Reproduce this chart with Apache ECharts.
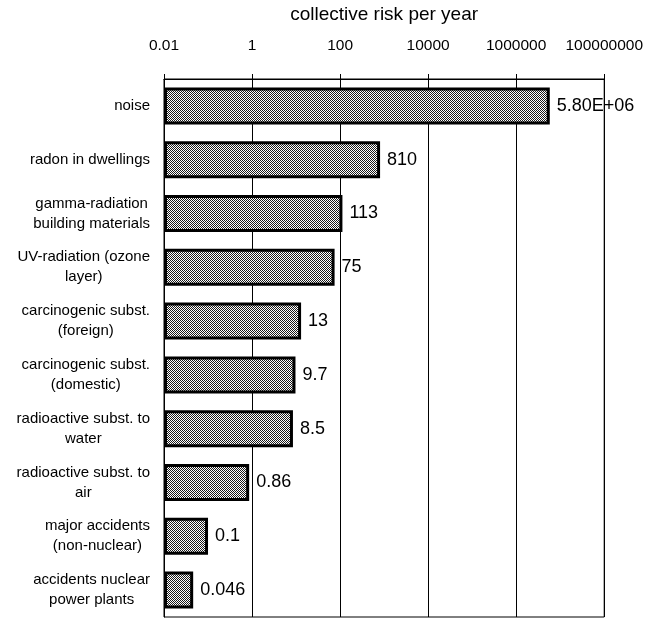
<!DOCTYPE html>
<html lang="en">

<head>
  <meta charset="UTF-8">
  <title>collective risk per year</title>
  <script src="https://cdn.jsdelivr.net/npm/echarts@6/dist/echarts.min.js"></script>
</head>

<body style="margin: 0;padding: 0;">
  <div id="main" style="width: 646px;height: 619px;"></div>
  <script>
    var categories = [
      'noise',
      'radon in dwellings',
      'gamma-radiation\nbuilding materials',
      'UV-radiation (ozone\nlayer)',
      'carcinogenic subst.\n(foreign)',
      'carcinogenic subst.\n(domestic)',
      'radioactive subst. to\nwater',
      'radioactive subst. to\nair',
      'major accidents\n(non-nuclear)',
      'accidents nuclear\npower plants'
    ];
    var values = [5800000, 810, 113, 75, 13, 9.7, 8.5, 0.86, 0.1, 0.046];
    var valueLabels = ['5.80E+06', '810', '113', '75', '13', '9.7', '8.5', '0.86', '0.1', '0.046'];
    var tickLabels = ['0.01', '1', '100', '10000', '1000000', '100000000'];

    // dotted fill like the old print
    var pat = document.createElement('canvas');
    pat.width = 2;
    pat.height = 2;
    var ctx = pat.getContext('2d');
    ctx.fillStyle = '#ffffff';
    ctx.fillRect(0, 0, 2, 2);
    ctx.fillStyle = '#1a1a1a';
    ctx.fillRect(0, 0, 1, 1);
    ctx.fillRect(1, 1, 1, 1);

    var font = '"Liberation Sans", Arial, sans-serif';
    var chart = echarts.init(document.getElementById('main'));

    var option = {
      animation: false,
      grid: {
        left: 164,
        right: 38,
        top: 76,
        bottom: 2,
        show: true,
        borderColor: '#000',
        borderWidth: 1
      },
      xAxis: {
        type: 'log',
        logBase: 100,
        min: 0.01,
        max: 100000000,
        startValue: 0.01,
        position: 'top',
        name: 'collective risk per year',
        nameLocation: 'middle',
        nameGap: 55,
        nameTextStyle: { fontFamily: font, fontSize: 19, color: '#000' },
        axisLine: { show: true, lineStyle: { color: '#000', width: 1 } },
        axisTick: { show: true, length: 5, lineStyle: { color: '#000' } },
        minorTick: { show: false },
        splitLine: { show: true, lineStyle: { color: '#000', width: 1 } },
        axisLabel: {
          margin: 25,
          fontFamily: font,
          fontSize: 15.5,
          color: '#000',
          formatter: function (v, i) { return tickLabels[i]; }
        }
      },
      yAxis: {
        type: 'category',
        inverse: true,
        data: categories,
        axisLine: { show: true, lineStyle: { color: '#000', width: 1 } },
        axisTick: { show: false },
        axisLabel: {
          margin: 14,
          formatter: function (v) {
            return v.split('\n').map(function (s) { return '{c|' + s + '}'; }).join('\n');
          },
          rich: {
            c: { align: 'center', fontFamily: font, fontSize: 15, color: '#000', lineHeight: 20 }
          }
        }
      },
      series: [{
        type: 'bar',
        data: values,
        barWidth: 37,
        itemStyle: {
          color: { image: pat, repeat: 'repeat' },
          borderColor: '#000',
          borderWidth: 3
        },
        label: {
          show: true,
          position: 'right',
          distance: 7,
          fontFamily: font,
          fontSize: 18,
          color: '#000',
          formatter: function (p) { return valueLabels[p.dataIndex]; }
        }
      }]
    };

    chart.setOption(option);
  </script>
</body>

</html>
